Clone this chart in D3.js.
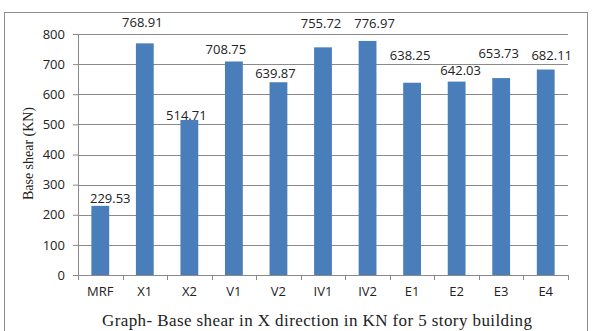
<!DOCTYPE html>
<html><head><meta charset="utf-8">
<script src="https://cdn.jsdelivr.net/npm/d3@7"></script>
<style>
body{margin:0;background:#fff;}
svg{display:block;}
</style></head>
<body>
<svg id="c" width="592" height="331"></svg>
<script>
// Base shear per model (KN)
const categories = ["MRF","X1","X2","V1","V2","IV1","IV2","E1","E2","E3","E4"];
const baseShear = [229.53,768.91,514.71,708.75,639.87,755.72,776.97,638.25,642.03,653.73,682.11];
const yTicks = [0,100,200,300,400,500,600,700,800];

// hand-placed nudges [dx, dy] for the value labels, in px
const labelNudge = [[10,0],[-2.5,-13.5],[-3,3],[-8,-4.5],[-3,-1.5],[-2,-16.5],[7,-10],[-2,-20],[4,-4],[-2.5,-17],[6,-7]];

const svg = d3.select("#c");
const W = 592, H = 331;
const m = {left:78, right:24, top:34, bottom:56};
const iw = W - m.left - m.right, ih = H - m.top - m.bottom;
const sans = "'Open Sans', Carlito, Calibri, sans-serif";
const serif = "'Liberation Serif', 'Times New Roman', serif";

// outer frame
svg.append("rect").attr("x",4.5).attr("y",12.5).attr("width",583).attr("height",330)
  .attr("fill","#fff").attr("stroke","#8c8c8c").attr("stroke-width",1);

const g = svg.append("g").attr("transform",`translate(${m.left},${m.top})`);

const x = d3.scaleBand().domain(categories).range([0,iw]).paddingInner(0.6).paddingOuter(0.3);
const y = d3.scaleLinear().domain([0,800]).range([ih,0]);

// gridlines
g.selectAll("line.grid").data(yTicks.slice(1)).join("line")
  .attr("x1",0).attr("x2",iw)
  .attr("y1",d=>Math.round(y(d))+0.5).attr("y2",d=>Math.round(y(d))+0.5)
  .attr("stroke","#8a8a8a").attr("stroke-width",1);

// y axis
const yAxis = g.append("g").call(d3.axisLeft(y).tickValues(yTicks).tickSize(5).tickPadding(8));
yAxis.select(".domain").attr("stroke","#8a8a8a");
yAxis.selectAll(".tick line").attr("stroke","#8a8a8a");
yAxis.selectAll("text").attr("font-family",sans).attr("font-size",13).attr("fill","#222");

// bars
g.selectAll("rect.bar").data(categories).join("rect")
  .attr("x",d=>x(d)).attr("width",x.bandwidth())
  .attr("y",(d,i)=>y(baseShear[i])).attr("height",(d,i)=>ih - y(baseShear[i]))
  .attr("fill","#4a7ebb");

// x axis with ticks between categories
const xa = g.append("g").attr("transform",`translate(0,${ih})`);
xa.append("line").attr("x1",0).attr("x2",iw).attr("y1",0.5).attr("y2",0.5).attr("stroke","#8a8a8a");
const step = x.step();
xa.selectAll("line.tk").data(d3.range(categories.length+1)).join("line")
  .attr("x1",d=>Math.round(d*step)+0.5).attr("x2",d=>Math.round(d*step)+0.5)
  .attr("y1",0).attr("y2",5).attr("stroke","#8a8a8a");
xa.selectAll("text").data(categories).join("text")
  .attr("x",d=>x(d)+x.bandwidth()/2).attr("y",21)
  .attr("text-anchor","middle")
  .attr("font-family",sans).attr("font-size",13).attr("fill","#222")
  .text(d=>d);

// value labels
g.selectAll("text.val").data(categories).join("text")
  .attr("x",(d,i)=>x(d)+x.bandwidth()/2+labelNudge[i][0])
  .attr("y",(d,i)=>y(baseShear[i])-3+labelNudge[i][1])
  .attr("text-anchor","middle")
  .attr("font-family",sans).attr("font-size",13).attr("fill","#222")
  .text((d,i)=>baseShear[i].toFixed(2));

// y axis title
svg.append("text").attr("transform","translate(33,153.5) rotate(-90)")
  .attr("text-anchor","middle")
  .attr("font-family",serif).attr("font-size",14).attr("fill","#222")
  .attr("textLength",93).attr("lengthAdjust","spacingAndGlyphs")
  .text("Base shear (KN)");

// caption
svg.append("text").attr("x",317).attr("y",326)
  .attr("text-anchor","middle")
  .attr("font-family",serif).attr("font-size",17).attr("fill","#222")
  .attr("textLength",430).attr("lengthAdjust","spacing")
  .text("Graph- Base shear in X direction in KN for 5 story building");
</script>
</body></html>
